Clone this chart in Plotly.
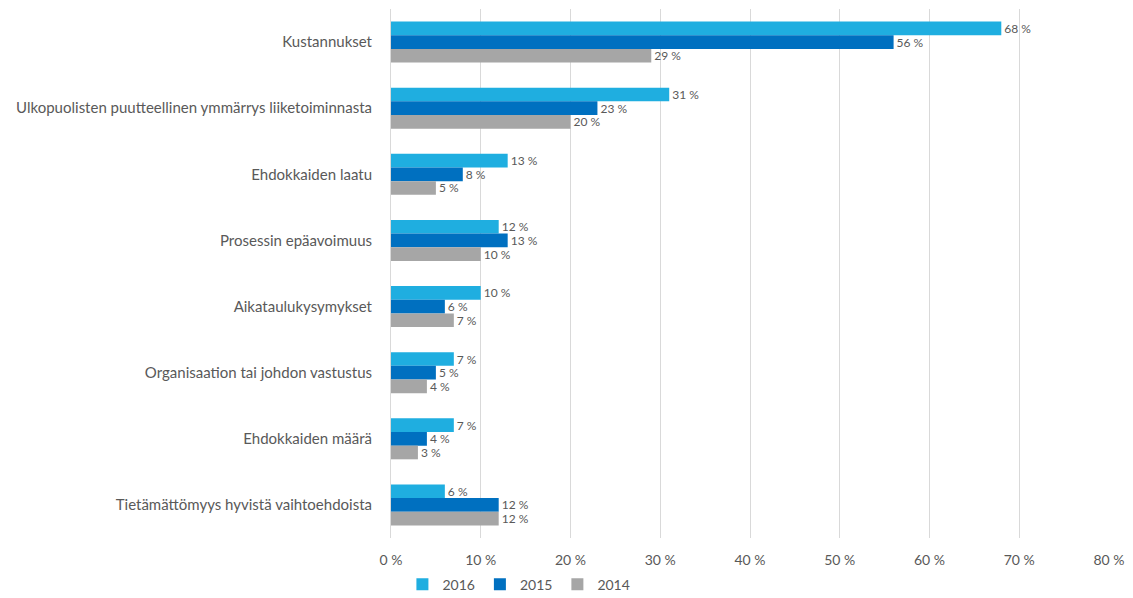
import plotly.graph_objects as go

categories = [
    "Kustannukset",
    "Ulkopuolisten puutteellinen ymmärrys liiketoiminnasta",
    "Ehdokkaiden laatu",
    "Prosessin epäavoimuus",
    "Aikataulukysymykset",
    "Organisaation tai johdon vastustus",
    "Ehdokkaiden määrä",
    "Tietämättömyys hyvistä vaihtoehdoista",
]
v2016 = [68, 31, 13, 12, 10, 7, 7, 6]
v2015 = [56, 23, 8, 13, 6, 5, 4, 12]
v2014 = [29, 20, 5, 10, 7, 4, 3, 12]
series = [("2016", v2016, "#1FAEE0"), ("2015", v2015, "#0070C0"), ("2014", v2014, "#A6A6A6")]
tick_vals = [0, 10, 20, 30, 40, 50, 60, 70, 80]
tick_text = [f"{v} %" for v in tick_vals]

FONT = "Lato"
TXT = "#595959"

fig = go.Figure()
for name, vals, color in series:
    fig.add_trace(go.Bar(
        y=categories, x=vals, name=name, orientation="h",
        marker=dict(color=color, line=dict(width=0)),
        text=[f"{v} %" for v in vals], textposition="outside",
        constraintext="none",
        textfont=dict(family=FONT, size=12, color=TXT),
        cliponaxis=False,
    ))

fig.update_layout(
    width=1133, height=598,
    margin=dict(l=391, r=24, t=9, b=60, autoexpand=False),
    barmode="group", bargap=0.38, bargroupgap=0,
    plot_bgcolor="white", paper_bgcolor="white",
    font=dict(family=FONT, size=14, color=TXT),
    showlegend=True,
    legend=dict(orientation="h", x=0.458, xanchor="center", xref="container",
                y=-0.058, yanchor="top", yref="paper",
                font=dict(family=FONT, size=14, color=TXT), traceorder="normal",
                itemwidth=30, tracegroupgap=0),
)
fig.update_xaxes(range=[0, 80], tickvals=tick_vals, ticktext=tick_text,
                 showgrid=True, gridcolor="#D9D9D9", gridwidth=1, zeroline=False,
                 tickfont=dict(family=FONT, size=14, color=TXT), ticks="", showline=False,
                 ticklabelstandoff=12)
fig.update_yaxes(autorange="reversed", showline=True, linecolor="#D9D9D9", linewidth=1,
                 ticks="", ticklabelstandoff=15,
                 tickfont=dict(family=FONT, size=15, color=TXT))

fig.write_html("out.html")
